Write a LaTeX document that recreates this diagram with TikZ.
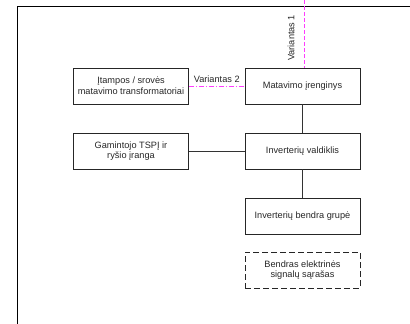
\documentclass[tikz,border=0pt]{standalone}
\usepackage{fontspec}
\setmainfont{Liberation Sans}
\usepackage[svgnames]{xcolor}
\usetikzlibrary{calc, positioning}

\definecolor{variantcolor}{RGB}{255,60,255}
\tikzset{
    block/.style={draw=black!85, line width=0.8pt, minimum width=115pt, minimum height=36pt,
        align=center, inner sep=1pt, font=\fontsize{9.2}{10.7}\selectfont, text=black!85},
    optblock/.style={block, dashed, dash pattern=on 6pt off 3pt},
    link/.style={draw=black!80, line width=0.8pt},
    variant/.style={draw=variantcolor, line width=1pt},
    lbl/.style={font=\fontsize{9.2}{10.7}\selectfont, text=black!85, inner sep=1pt}
}

\begin{document}
\begin{tikzpicture}[x=1pt, y=-1pt]
    \useasboundingbox (0,0) rectangle (410,324);
    \draw[line width=1pt] (17,324) -- (17,6) -- (410,6);

    \node[block] (itampos) at (131,86) {Įtampos / srovės\\matavimo transformatoriai};
    \node[block] (matavimo) at (302.5,86) {Matavimo įrenginys};
    \node[block] (gamintojo) at (131,151) {Gamintojo TSPĮ ir\\ryšio įranga};
    \node[block] (valdiklis) at (302.5,151) {Inverterių valdiklis};
    \node[block] (grupe) at (302.5,216) {Inverterių bendra grupė};
    \node[optblock] (sarasas) at (302.5,270) {Bendras elektrinės\\signalų sąrašas};

    \coordinate (top) at (304.5,0);
    \draw[variant, dash pattern=on 4pt off 2pt] (top) -- node[lbl, pos=0.56, xshift=-13.5pt, rotate=90] {Variantas 1} (top |- matavimo.north);
    \draw[variant, dash pattern=on 5pt off 2pt on 1pt off 2pt] (itampos) -- node[lbl, midway, above=2pt] {Variantas 2} (matavimo);

    \draw[link] (matavimo) -- (valdiklis);
    \draw[link] (gamintojo) -- (valdiklis);
    \draw[link] (valdiklis) -- (grupe);
\end{tikzpicture}
\end{document}
